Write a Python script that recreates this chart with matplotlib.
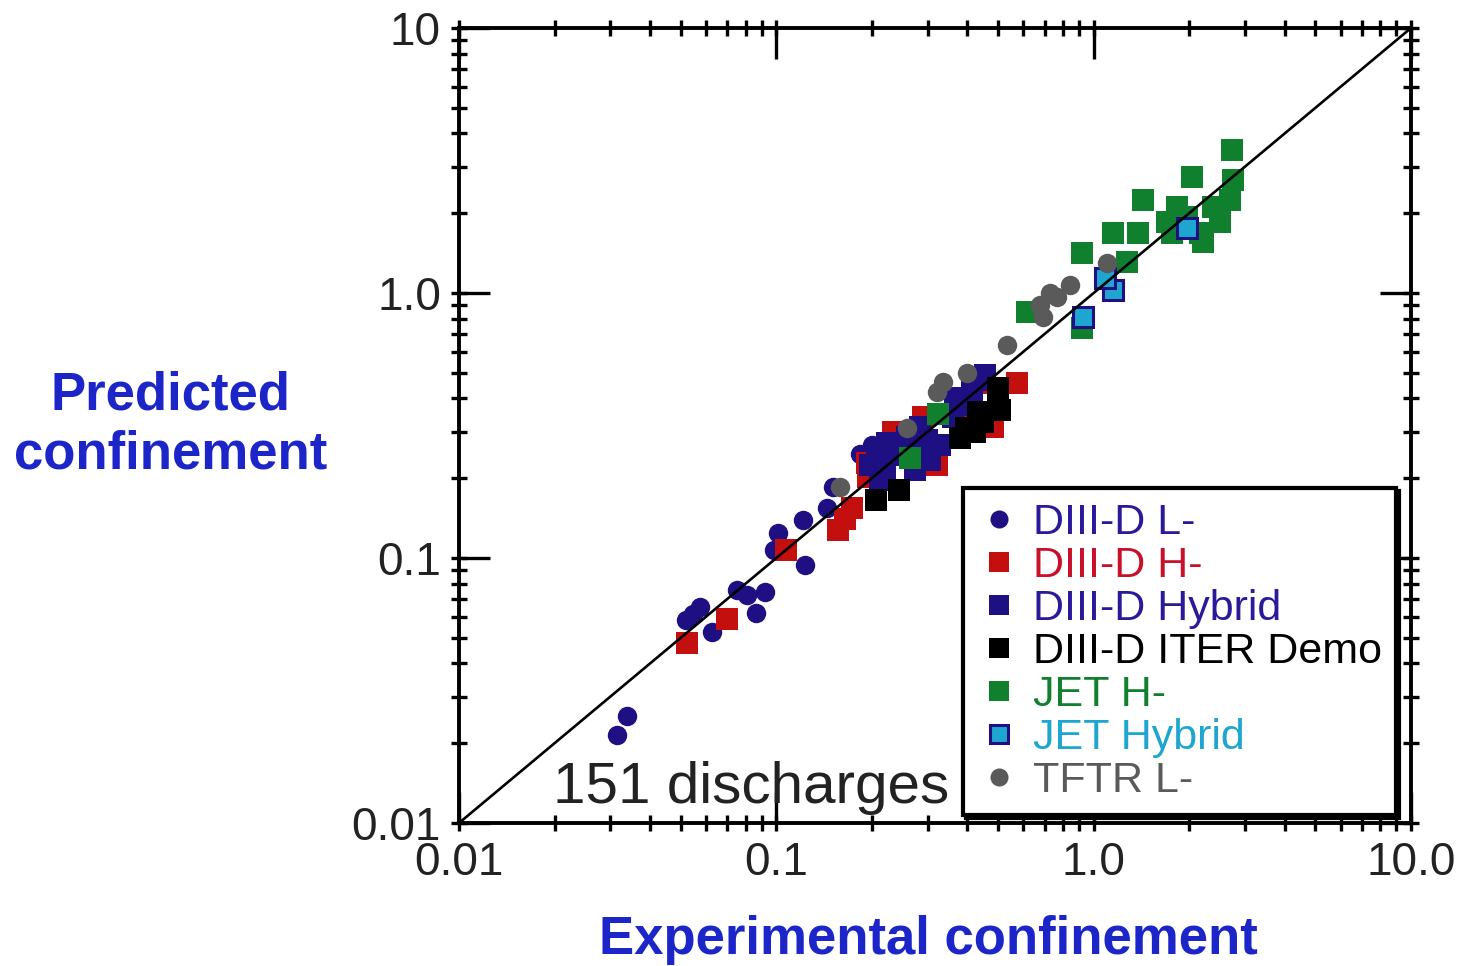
import numpy as np
import matplotlib
matplotlib.use('Agg')
import matplotlib.pyplot as plt
from matplotlib.lines import Line2D

plt.rcParams['font.family'] = ['Liberation Sans', 'DejaVu Sans']

# DIII-D L-mode (circles)
l_x = [0.0315, 0.0339, 0.052, 0.0547, 0.0576, 0.0629, 0.0754, 0.081, 0.0865, 0.0923,
       0.098, 0.1015, 0.1217, 0.1234, 0.1448, 0.1512, 0.184, 0.2007]
l_y = [0.0215, 0.0253, 0.0583, 0.0615, 0.0653, 0.0526, 0.0757, 0.0725, 0.062, 0.0745,
       0.1072, 0.1243, 0.1391, 0.0941, 0.1544, 0.1853, 0.2468, 0.2669]
# DIII-D H-mode
h_x = [0.0524, 0.0701, 0.1075, 0.1568, 0.165, 0.1736, 0.1936, 0.195, 0.2337, 0.2551,
       0.2906, 0.3218, 0.3719, 0.43, 0.483, 0.5748]
h_y = [0.0478, 0.0589, 0.1072, 0.1275, 0.1403, 0.1544, 0.2283, 0.2022, 0.2988, 0.2716,
       0.3404, 0.2244, 0.3404, 0.4574, 0.3121, 0.4574]
# DIII-D hybrid
hy_x = [0.2127, 0.2206, 0.2238, 0.2337, 0.2588, 0.2743, 0.2844, 0.2991, 0.3057, 0.3287,
        0.3613, 0.3666, 0.3802, 0.4148, 0.4395, 0.4558, 0.2081, 0.1978]
hy_y = [0.197, 0.2148, 0.2716, 0.2447, 0.2861, 0.2148, 0.3121, 0.2788, 0.2343, 0.2669,
        0.3404, 0.4017, 0.378, 0.4305, 0.4696, 0.4904, 0.2556, 0.2244]
# DIII-D ITER demo
it_x = [0.2066, 0.2441, 0.3802, 0.397, 0.4331, 0.4491, 0.5008, 0.5008, 0.5082, 0.4238]
it_y = [0.1655, 0.1806, 0.2837, 0.3094, 0.3555, 0.3261, 0.378, 0.4381, 0.3617, 0.2988]
# JET H-mode
jh_x = [0.2644, 0.3239, 0.618, 0.9214, 0.9214, 1.1538, 1.2775, 1.3832, 1.4343, 1.7077,
        1.7703, 1.8356, 1.9737, 2.0468, 2.169, 2.2166, 2.3843, 2.5083, 2.697, 2.7566, 2.7366]
jh_y = [0.2384, 0.3494, 0.8479, 0.7377, 1.4155, 1.6843, 1.3092, 1.6843, 2.243, 1.8535,
        1.6843, 2.1111, 1.9358, 2.7395, 1.6843, 1.5576, 2.1111, 1.8535, 2.243, 2.6691, 3.4637]
# JET hybrid
jy_x = [1.9737, 1.1538, 0.928, 1.0889]
jy_y = [1.7592, 1.0264, 0.8117, 1.1392]
# TFTR L-mode
tf_x = [0.1591, 0.2588, 0.3218, 0.3359, 0.3999, 0.5346, 0.6792, 0.6942, 0.7304, 0.7686,
        0.845, 1.1046]
tf_y = [0.1853, 0.3094, 0.4231, 0.4615, 0.4991, 0.6365, 0.901, 0.8117, 1.0, 0.9658,
        1.0719, 1.2975]

ticks = [0.01, 0.1, 1.0, 10.0]
xlabels = ['0.01', '0.1', '1.0', '10.0']
ylabels = ['0.01', '0.1', '1.0', '10']

navy = '#1e0f82'
red = '#c40f0f'
green = '#10802f'
cyan = '#1fa6d0'
gray = '#5a5a5a'
blue = '#1c26c8'

fig = plt.figure(figsize=(14.6, 9.66), dpi=100)
ax = fig.add_axes([459/1460, 1-823/966, (1411-459)/1460, (823-28)/966])

ax.plot(l_x, l_y, 'o', color=navy, ms=14, mew=0)
ax.plot(h_x, h_y, 's', color=red, ms=16, mew=0)
ax.plot(hy_x, hy_y, 's', color=navy, ms=16, mew=0)
ax.plot(it_x, it_y, 's', color='black', ms=16, mew=0)
ax.plot(jh_x, jh_y, 's', color=green, ms=16, mew=0)
ax.plot(jy_x, jy_y, 's', mfc=cyan, mec=navy, ms=14.5, mew=2.2)
ax.plot(tf_x, tf_y, 'o', color=gray, ms=14, mew=0)
ax.plot([0.01, 10], [0.01, 10], color='black', lw=1.9, zorder=5)

ax.set_xscale('log')
ax.set_yscale('log')
ax.set_xlim(0.01, 10)
ax.set_ylim(0.01, 10)
ax.set_xticks(ticks, xlabels)
ax.set_yticks(ticks, ylabels)
ax.xaxis.remove_overlapping_locs = False
ax.yaxis.remove_overlapping_locs = False
ax.xaxis.set_minor_locator(matplotlib.ticker.LogLocator(base=10, subs=np.arange(1, 10)))
ax.yaxis.set_minor_locator(matplotlib.ticker.LogLocator(base=10, subs=np.arange(1, 10)))
ax.xaxis.set_minor_formatter(matplotlib.ticker.NullFormatter())
ax.yaxis.set_minor_formatter(matplotlib.ticker.NullFormatter())
ax.tick_params(which='major', direction='in', length=22, width=2.4,
               top=True, right=True, labelsize=33, labelcolor='#222222', pad=13)
ax.tick_params(which='minor', direction='inout', length=11, width=2.4,
               top=True, right=True)
for s in ax.spines.values():
    s.set_linewidth(2.8)

ax.text(0.0987, 0.025, '151 discharges', transform=ax.transAxes, fontsize=42,
        color='#222222', va='baseline', ha='left')

handles = [
    Line2D([], [], ls='none', marker='o', color=navy, ms=13, mew=0),
    Line2D([], [], ls='none', marker='s', color=red, ms=14, mew=0),
    Line2D([], [], ls='none', marker='s', color=navy, ms=14, mew=0),
    Line2D([], [], ls='none', marker='s', color='black', ms=14, mew=0),
    Line2D([], [], ls='none', marker='s', color=green, ms=14, mew=0),
    Line2D([], [], ls='none', marker='s', mfc=cyan, mec=navy, ms=12.5, mew=2.2),
    Line2D([], [], ls='none', marker='o', color=gray, ms=13, mew=0),
]
names = ['DIII-D L-', 'DIII-D H-', 'DIII-D Hybrid', 'DIII-D ITER Demo', 'JET H-',
         'JET Hybrid', 'TFTR L-']
txtcol = ['#2a1a9a', '#c8102a', '#2a1a9a', 'black', green, cyan, gray]
leg = ax.legend(handles, names, loc='upper left',
                bbox_to_anchor=(963/1460, 1-488/966), bbox_transform=fig.transFigure,
                fontsize=31, labelcolor=txtcol, handlelength=1.0, handletextpad=0.28,
                borderpad=0.34, labelspacing=0.07, borderaxespad=0, fancybox=False,
                edgecolor='black', framealpha=1, shadow={'color': 'black', 'alpha': 1})
leg.get_frame().set_linewidth(3)
leg.set_zorder(10)

fig.text(171/1460, 1-425/966, 'Predicted\nconfinement', ha='center', va='center',
         multialignment='center', fontsize=38, fontweight='bold', color=blue,
         linespacing=1.25)
fig.text(928/1460, 1-940/966, 'Experimental confinement', ha='center', va='center',
         fontsize=38, fontweight='bold', color=blue)

fig.savefig('out.png', dpi=100)
